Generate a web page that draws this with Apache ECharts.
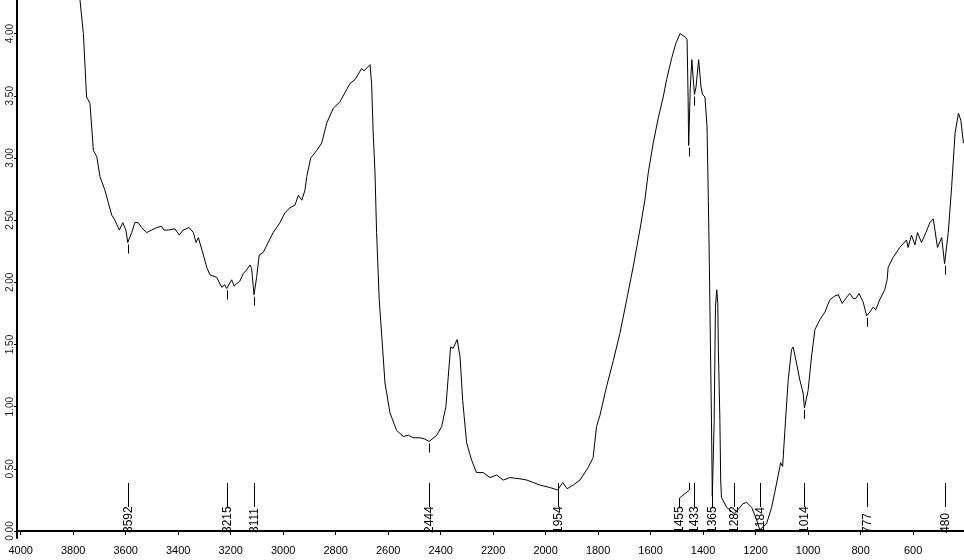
<!DOCTYPE html>
<html>
<head>
<meta charset="utf-8">
<script src="https://cdn.jsdelivr.net/npm/echarts@6/dist/echarts.min.js"></script>
<style>
html,body{margin:0;padding:0;background:#fff;}
#chart{width:964px;height:560px;}
</style>
</head>
<body>
<div id="chart"></div>
<script>
// ---- data ----
var wavenumber = [3790,3761,3749,3736,3723,3710,3698,3679,3666,3653,3641,3624,3611,3599,3592,3577,3565,3552,3539,3520,3501,3482,3463,3454,3438,3412,3396,3381,3358,3342,3332,3323,3304,3291,3279,3253,3234,3222,3215,3196,3187,3165,3152,3139,3126,3120,3111,3101,3091,3076,3057,3038,3012,2993,2974,2955,2942,2929,2917,2910,2895,2872,2853,2834,2809,2784,2758,2745,2726,2701,2692,2669,2663,2657,2650,2644,2634,2625,2612,2593,2568,2542,2523,2504,2479,2460,2444,2415,2396,2380,2371,2362,2352,2337,2326,2316,2301,2282,2263,2238,2212,2187,2161,2136,2098,2072,2047,2022,1984,1954,1935,1918,1895,1869,1838,1819,1806,1793,1768,1742,1717,1691,1665,1641,1622,1609,1590,1571,1552,1539,1520,1504,1488,1467,1461,1457,1455,1449,1443,1433,1427,1417,1408,1402,1393,1385,1380,1376,1372,1368,1365,1358,1353,1348,1344,1342,1336,1333,1330,1310,1282,1264,1248,1234,1215,1196,1184,1158,1139,1127,1110,1105,1097,1086,1076,1063,1057,1044,1031,1019,1014,1000,987,974,955,936,917,898,885,870,853,841,828,818,806,790,777,765,752,742,727,708,699,695,676,651,625,619,606,593,583,568,551,536,523,507,491,480,466,453,440,427,418,408];
var absorbance = [4.60,4.00,3.49,3.44,3.06,3.01,2.85,2.74,2.64,2.54,2.50,2.42,2.48,2.42,2.32,2.40,2.48,2.48,2.44,2.40,2.42,2.44,2.45,2.42,2.42,2.43,2.38,2.42,2.44,2.40,2.32,2.36,2.22,2.12,2.06,2.04,1.96,1.98,1.95,2.02,1.97,2.01,2.07,2.10,2.14,2.11,1.90,2.04,2.22,2.24,2.32,2.40,2.48,2.56,2.60,2.62,2.70,2.66,2.74,2.85,3.00,3.06,3.12,3.28,3.40,3.45,3.55,3.60,3.63,3.72,3.70,3.75,3.60,3.20,2.88,2.40,1.86,1.59,1.19,0.95,0.81,0.76,0.77,0.75,0.75,0.74,0.72,0.77,0.84,1.00,1.24,1.48,1.47,1.54,1.40,1.05,0.71,0.57,0.47,0.47,0.43,0.45,0.41,0.43,0.42,0.41,0.39,0.37,0.35,0.33,0.39,0.34,0.37,0.41,0.51,0.59,0.84,0.93,1.16,1.37,1.59,1.86,2.14,2.42,2.66,2.88,3.12,3.32,3.49,3.63,3.80,3.92,4.00,3.97,3.95,3.46,3.10,3.56,3.79,3.51,3.57,3.79,3.57,3.51,3.49,3.25,2.66,2.12,1.48,0.87,0.28,0.87,1.80,1.94,1.83,1.48,0.89,0.41,0.27,0.19,0.14,0.18,0.22,0.23,0.19,0.09,0.01,0.06,0.19,0.31,0.49,0.55,0.52,0.89,1.21,1.46,1.48,1.35,1.21,1.11,0.99,1.13,1.40,1.62,1.70,1.76,1.86,1.89,1.90,1.83,1.88,1.91,1.87,1.87,1.91,1.84,1.73,1.76,1.80,1.78,1.86,1.94,2.02,2.12,2.20,2.28,2.34,2.28,2.38,2.30,2.40,2.32,2.40,2.48,2.51,2.28,2.36,2.15,2.40,2.77,3.20,3.36,3.30,3.12];
var peaks = [3592,3215,3111,2444,1954,1455,1433,1365,1282,1184,1014,777,480];
var xTicks = [4000,3800,3600,3400,3200,3000,2800,2600,2400,2200,2000,1800,1600,1400,1200,1000,800,600];
var yTicks = [0,0.5,1,1.5,2,2.5,3,3.5,4];

// ---- build ----
var lineData = wavenumber.map(function(w, i){ return [w, absorbance[i]]; });
var peakData = peaks.map(function(w){ return [w, absorbance[wavenumber.indexOf(w)]]; });
var FONT = '"Liberation Sans", Arial, sans-serif';

var chart = echarts.init(document.getElementById('chart'), null, {renderer: 'canvas'});
chart.setOption({
  animation: false,
  backgroundColor: '#fff',
  grid: {left: 17, right: 0, top: 0, bottom: 22, containLabel: false},
  xAxis: {
    type: 'value', inverse: true, min: 406, max: 4014,
    axisLine: {show: true, lineStyle: {color: '#000', width: 2}},
    axisTick: {show: true, length: 4, customValues: xTicks, lineStyle: {color: '#000', width: 1}},
    axisLabel: {customValues: xTicks, color: '#000', fontSize: 11, fontFamily: FONT, margin: 7,
      formatter: function(v){ return String(v); }},
    splitLine: {show: false}
  },
  yAxis: {
    type: 'value', min: -0.056, max: 4.27,
    axisLine: {show: true, lineStyle: {color: '#000', width: 2}},
    axisTick: {show: true, length: 3, customValues: yTicks, lineStyle: {color: '#000', width: 1}},
    axisLabel: {customValues: yTicks, rotate: 90, color: '#222', fontSize: 10, fontFamily: FONT, margin: 2,
      formatter: function(v){ return v.toFixed(2); }},
    splitLine: {show: false}
  },
  series: [
    {
      type: 'line', data: lineData, symbol: 'none', smooth: false,
      lineStyle: {color: '#000', width: 1}, clip: true, z: 3
    },
    {
      type: 'custom', data: peakData, clip: false, z: 4,
      renderItem: function(params, api){
        var cs = params.coordSys;
        var bottom = cs.y + cs.height;
        var top = bottom - 55;
        var pxs = peaks.map(function(w){ return api.coord([w, 0])[0]; });
        var lxs = pxs.slice();
        for (var k = pxs.length - 2; k >= 0; k--) {
          lxs[k] = Math.min(pxs[k], lxs[k+1] - 15);
        }
        var i = params.dataIndex;
        var px = Math.round(pxs[i]) + 0.5;
        var lx = Math.round(lxs[i]) + 0.5;
        var p = api.coord([api.value(0), api.value(1)]);
        var children = [];
        if (p[1] + 11 < top) {
          children.push({type: 'line', shape: {x1: px, y1: p[1] + 2, x2: px, y2: p[1] + 11},
            style: {stroke: '#000', lineWidth: 1}});
        }
        var pts = (lx < px - 0.5) ?
          [[px, top], [px, top + 7], [lx, top + 15], [lx, top + 24]] :
          [[px, top], [px, top + 24]];
        children.push({type: 'polyline', shape: {points: pts}, style: {stroke: '#000', lineWidth: 1, fill: null}});
        children.push({type: 'text', x: lx, y: bottom - 5, rotation: Math.PI / 2,
          style: {text: String(peaks[i]), x: 0, y: 0,
            align: 'left', verticalAlign: 'middle',
            fill: '#000', fontSize: 12, fontFamily: FONT}});
        return {type: 'group', children: children};
      }
    }
  ]
});
</script>
</body>
</html>
